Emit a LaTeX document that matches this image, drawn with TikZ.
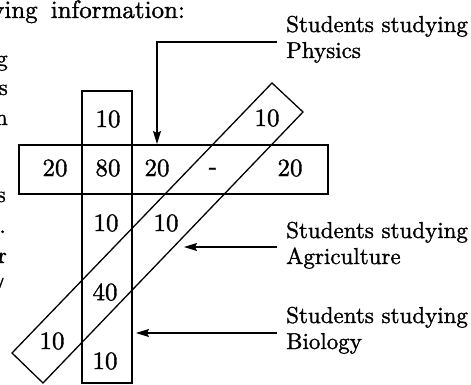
\documentclass[tikz,border=0pt]{standalone}
\usepackage{fontspec}
\setmainfont{lmroman10-regular.otf}[BoldFont=lmroman10-regular.otf, BoldFeatures={FakeBold=1.3}]
\usetikzlibrary{arrows.meta}
\begin{document}
\begin{tikzpicture}[x=1pt,y=-1pt,
  shp/.style={line width=1.3pt, line join=miter},
  num/.style={font=\fontsize{25}{25}\selectfont\bfseries, inner sep=0pt},
  lbl/.style={font=\fontsize{23}{26}\selectfont\bfseries, align=left, inner sep=0pt, anchor=base west},
  frag/.style={font=\fontsize{23}{27}\selectfont\bfseries, inner sep=0pt, anchor=base east},
  arr/.style={line width=1.1pt, -{Stealth[length=13pt,width=8pt,inset=2pt]}}]
\useasboundingbox (0,0) rectangle (471,385);
% header and cut text
\node[font=\fontsize{25}{27}\selectfont\bfseries, inner sep=0pt, anchor=base west] (hdr) at (-9,18) {ving\hspace{13pt}information:};
\node[frag] (f1) at (8,66) {g};
\node[frag] (f2) at (8,95) {s};
\node[frag] (f3) at (8,125) {n};
\node[frag] (f4) at (6,202) {s};
\node[frag] (f5) at (6,233) {.};
\node[frag] (f6) at (7,263) {r};
\node[frag] (f7) at (5,295) {/};
% shapes
\draw[shp] (82,91) rectangle (132,383);
\draw[shp] (19,145) rectangle (328,194);
\draw[shp] (12,353) -- (43,383) -- (303,112) -- (272,83) -- cycle;
% numbers
\node[num] (n1) at (108,119) {10};
\node[num] (n2) at (55,168) {20};
\node[num] (n3) at (108,168) {80};
\node[num] (n4) at (157,168) {20};
\node[num] (n5) at (213,171) {-};
\node[num] (n6) at (290,168) {20};
\node[num] (n7) at (267,118) {10};
\node[num] (n8) at (106,223) {10};
\node[num] (n9) at (166,223) {10};
\node[num] (n10) at (105,292) {40};
\node[num] (n11) at (52,341) {10};
\node[num] (n12) at (105,361) {10};
% labels (anchored at the baseline of the last line)
\node[lbl] (lp) at (286,58) {Students studying\\Physics};
\node[lbl] (la) at (286,264) {Students studying\\Agriculture};
\node[lbl] (lb) at (286,349) {Students studying\\Biology};
% arrows
\coordinate (ps) at (277,42);
\coordinate (pt) at (157,144);
\coordinate (as) at (277,247);
\coordinate (at) at (184,247);
\coordinate (bs) at (277,333);
\coordinate (bt) at (136,333);
\draw[arr] (ps) -| (pt);
\draw[arr] (as) -- (at);
\draw[arr] (bs) -- (bt);
\end{tikzpicture}
\end{document}
